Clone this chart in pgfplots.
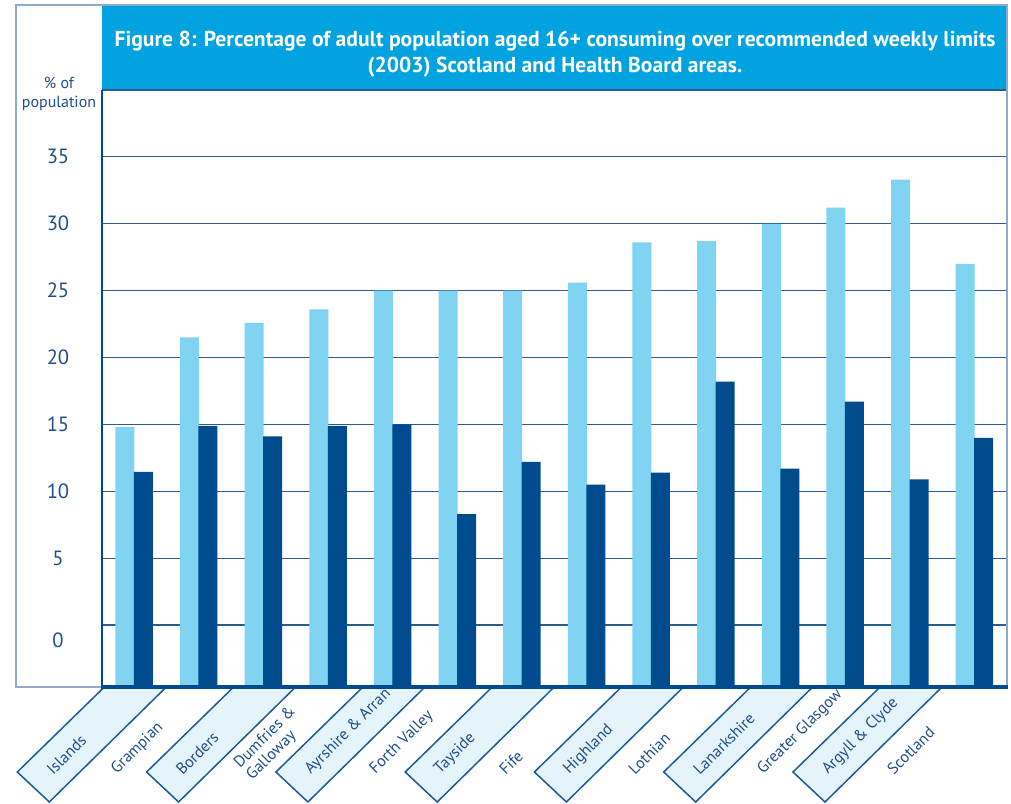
\documentclass[border=0pt]{standalone}
\usepackage{pgfplots}
\pgfplotsset{compat=1.18}
\usepackage{pgfplotstable}
\usepackage{fontspec}
\setmainfont{PT Sans}
\definecolor{lightbar}{HTML}{80D3F1}
\definecolor{darkbar}{HTML}{004A8E}
\definecolor{titleblue}{HTML}{00A3E0}
\definecolor{txtblue}{HTML}{1F4E8C}
\definecolor{gridblue}{HTML}{2A5D96}
\definecolor{framegray}{HTML}{8FA9C9}
\definecolor{boxfill}{HTML}{E5F4FB}
\definecolor{boxline}{HTML}{1C5A99}

\pgfplotstableread{
idx light dark
0  14.8 11.45
1  21.5 14.9
2  22.6 14.1
3  23.6 14.9
4  25.0 15.0
5  25.0 8.3
6  25.0 12.2
7  25.6 10.5
8  28.6 11.4
9  28.7 18.2
10 30.0 11.7
11 31.2 16.7
12 33.3 10.9
13 27.0 14.0
}\datatable

\begin{document}
\begin{tikzpicture}
\begin{scope}[x=0.5pt,y=-0.5pt]
  \draw[framegray, line width=0.6pt] (16,5) rectangle (1007,687);
  \fill[titleblue] (102,6) rectangle (1007,90);
  \node[text=white, font=\bfseries\fontsize{10.8}{13}\selectfont, align=center] at (555,54)
    {Figure 8: Percentage of adult population aged 16+ consuming over recommended weekly limits\\(2003) Scotland and Health Board areas.};
  \node[text=txtblue, font=\fontsize{8}{9.5}\selectfont, align=center] at (59,94) {\% of\\population};
  \foreach \c in {134.3,263.6,392.9,522.2,651.4,780.7,910.0}
    \filldraw[fill=boxfill, draw=boxline, line width=0.75pt]
      ({\c-31},688) -- ({\c+31},688) -- ({\c-85},802) -- ({\c-117},772) -- cycle;
\end{scope}
\begin{axis}[
  at={(51pt,-343.5pt)}, anchor=south west,
  scale only axis, width=452.5pt, height=298.5pt,
  xmin=-0.5, xmax=13.5, ymin=0, ymax=44.63,
  axis line style={draw=none},
  major tick length=0pt, tick style={draw=none},
  ytick={4.63,9.63,14.63,19.63,24.63,29.63,34.63,39.63},
  yticklabels={,5,10,15,20,25,30,35},
  extra y ticks={3.51}, extra y tick labels={0},
  extra y tick style={grid=none},
  ymajorgrids, grid style={gridblue, line width=0.6pt},
  /pgf/number format/assume math mode=true,
  yticklabel style={anchor=center, xshift=-22pt, font=\fontsize{10.3}{12}\selectfont, text=txtblue},
  xtick={0,...,13},
  xticklabels={Islands, Grampian, Borders, {Dumfries \&\\Galloway}, Ayrshire \& Arran, Forth Valley, Tayside, Fife, Highland, Lothian, Lanarkshire, Greater Glasgow, Argyll \& Clyde, Scotland},
  xticklabel style={rotate=45, anchor=west, xshift=-63.5pt, align=left, font=\fontsize{8}{8.6}\selectfont, text=txtblue},
]
\addplot[ybar, bar width=9.5pt, bar shift=-4.75pt, fill=lightbar, draw=none]
  table[x=idx, y expr=\thisrow{light}+4.63] {\datatable};
\addplot[ybar, bar width=9.5pt, bar shift=4.5pt, fill=darkbar, draw=none]
  table[x=idx, y expr=\thisrow{dark}+4.63] {\datatable};
\end{axis}
\begin{scope}[x=0.5pt,y=-0.5pt]
  \draw[gridblue, line width=0.75pt] (102,90) -- (1007,90);
  \draw[darkbar, line width=0.75pt] (102,90) -- (102,688);
  \draw[framegray, line width=0.75pt] (1007,5) -- (1007,688);
  \draw[darkbar, line width=1.75pt] (101,687) -- (1008,687);
\end{scope}
\pgfresetboundingbox
\useasboundingbox (0,0) rectangle (505.5pt,-401.5pt);
\end{tikzpicture}
\end{document}
